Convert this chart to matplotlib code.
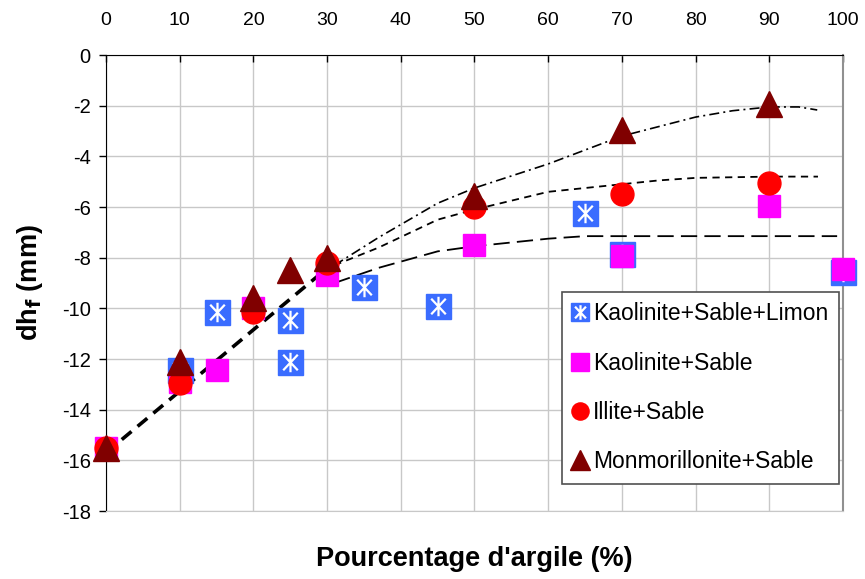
import numpy as np
import matplotlib
matplotlib.use("Agg")
import matplotlib.pyplot as plt
from matplotlib.path import Path
from matplotlib.legend_handler import HandlerTuple

plt.rcParams['font.family'] = ['Liberation Sans', 'DejaVu Sans']
plt.rcParams['axes.unicode_minus'] = False

# data
x_ksl = [10, 15, 25, 25, 35, 45, 65, 70, 100]
y_ksl = [-12.45, -10.15, -10.45, -12.1, -9.15, -9.9, -6.25, -7.85, -8.55]

x_ks = [0, 10, 15, 20, 30, 50, 70, 90, 100]
y_ks = [-15.5, -12.9, -12.45, -10.0, -8.7, -7.5, -7.95, -5.95, -8.45]

x_is = [0, 10, 20, 30, 50, 70, 90]
y_is = [-15.5, -12.95, -10.15, -8.2, -6.0, -5.5, -5.05]

x_ms = [0, 10, 20, 25, 30, 50, 70, 90]
y_ms = [-15.5, -12.1, -9.6, -8.5, -8.0, -5.55, -2.95, -1.95]

# trend curves
x_fit0 = [0, 30.9]
y_fit0 = [-15.7, -8.2]
x_fit_ks = [31, 37, 45, 50, 55, 60, 65, 80, 99.2]
y_fit_ks = [-9.0, -8.4, -7.75, -7.55, -7.4, -7.25, -7.15, -7.15, -7.15]
x_fit_is = [31, 37, 45, 50, 60, 70, 75, 80, 90, 96.6]
y_fit_is = [-8.3, -7.6, -6.5, -6.1, -5.4, -5.1, -4.95, -4.85, -4.8, -4.8]
x_fit_ms = [31, 37, 45, 50, 60, 70, 80, 85, 90, 94, 96.5]
y_fit_ms = [-8.3, -7.2, -5.85, -5.25, -4.3, -3.2, -2.45, -2.2, -2.05, -2.05, -2.17]

labels = ['Kaolinite+Sable+Limon', 'Kaolinite+Sable', 'Illite+Sable', 'Monmorillonite+Sable']

blue = '#3A6CFF'
magenta = '#FF00FF'
red = '#FF0000'
dark = '#800000'

star = Path([(0, -1), (0, 1), (-0.75, -0.8), (0.75, 0.8), (-0.75, 0.8), (0.75, -0.8)],
            [Path.MOVETO, Path.LINETO, Path.MOVETO, Path.LINETO, Path.MOVETO, Path.LINETO])

fig = plt.figure(figsize=(8.65, 5.79), dpi=100)
ax = fig.add_axes([0.1225, 0.1174, 0.8521, 0.7876])

ax.plot(x_fit0, y_fit0, color='black', lw=2.6, ls=(0, (3.5, 2.2)), zorder=2)
ax.plot(x_fit_ks, y_fit_ks, color='black', lw=1.3, ls=(0, (9, 4)), zorder=2)
ax.plot(x_fit_is, y_fit_is, color='black', lw=1.3, ls=(0, (4, 3)), zorder=2)
ax.plot(x_fit_ms, y_fit_ms, color='black', lw=1.2, ls=(0, (6, 2.5, 1.2, 2.5)), zorder=2)

h1a, = ax.plot(x_ksl, y_ksl, ls='none', marker='s', ms=18, mfc=blue, mec=blue, clip_on=False, zorder=3)
h1b, = ax.plot(x_ksl, y_ksl, ls='none', marker=star, ms=14, mec='white', mew=1.6, clip_on=False, zorder=3)
h2, = ax.plot(x_ks, y_ks, ls='none', marker='s', ms=16.5, mfc=magenta, mec=magenta, clip_on=False, zorder=4)
h3, = ax.plot(x_is, y_is, ls='none', marker='o', ms=16.5, mfc=red, mec=red, clip_on=False, zorder=5)
h4, = ax.plot(x_ms, y_ms, ls='none', marker='^', ms=18.5, mfc=dark, mec=dark, clip_on=False, zorder=6)

ax.set_xlim(0, 100)
ax.set_ylim(-18, 0)
ax.set_xticks(np.arange(0, 101, 10))
ax.set_yticks(np.arange(-18, 1, 2))
ax.grid(True, color='#c8c8c8', lw=1)
ax.set_axisbelow(True)

ax.xaxis.tick_top()
ax.xaxis.set_label_position('bottom')
ax.tick_params(axis='x', direction='in', length=5, width=1, labelsize=14, pad=19, colors='black')
ax.tick_params(axis='y', direction='out', length=5, width=1, labelsize=14.5, pad=6)

ax.spines['left'].set_color('black')
ax.spines['top'].set_color('black')
ax.spines['right'].set_color('#909090')
ax.spines['bottom'].set_color('#c8c8c8')
ax.spines['right'].set_linewidth(1.5)

ax.set_xlabel("Pourcentage d'argile (%)", fontsize=19.5, fontweight='bold', labelpad=25)
ax.set_ylabel(r'dh$_{\mathbf{f}}$ (mm)', fontsize=19.5, fontweight='bold', labelpad=12)

leg = ax.legend([(h1a, h1b), h2, h3, h4], labels, handler_map={tuple: HandlerTuple(ndivide=1)},
                loc='lower right', bbox_to_anchor=(0.997, 0.055), fontsize=16.5, markerscale=0.75,
                labelspacing=1.15, handlelength=0.7, handletextpad=0.2, borderpad=0.45,
                borderaxespad=0.1, fancybox=False, framealpha=1, edgecolor='#505050')
leg.get_frame().set_linewidth(1.2)

fig.savefig('out.png', dpi=100)
